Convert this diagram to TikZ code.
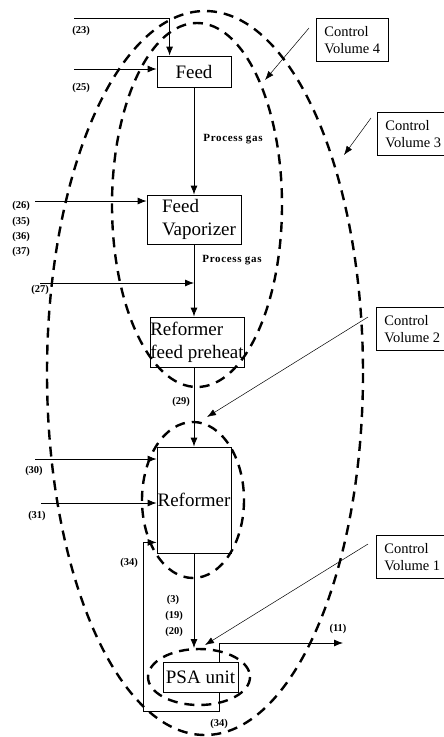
\documentclass[tikz,border=0pt]{standalone}
\usepackage{fontspec}
\setmainfont{Liberation Serif}
\usetikzlibrary{arrows.meta}
\begin{document}
\begin{tikzpicture}[x=1pt,y=-1pt,
  box/.style={draw, line width=0.8pt, inner sep=0pt, font=\fontsize{19}{23}\selectfont},
  cvbox/.style={draw, line width=0.8pt, anchor=north west, align=left, inner xsep=8pt, inner ysep=0pt, minimum height=43pt, font=\fontsize{14.5}{16.5}\selectfont},
  lbl/.style={font=\fontsize{10.5}{12}\selectfont\bfseries, inner sep=0pt},
  gas/.style={font=\fontsize{11}{12}\selectfont\bfseries\addfontfeatures{LetterSpace=6}, inner sep=0pt},
  flow/.style={line width=0.8pt},
  arr/.style={flow, -{Latex[length=9pt,width=7pt]}},
  cv/.style={line width=2.4pt, dash pattern=on 10pt off 7pt},
  ptr/.style={line width=0.5pt, -{Latex[length=9pt,width=6.5pt]}}
]
\path[use as bounding box, fill=white] (0,0) rectangle (444,737);

% control volume boundaries
\draw[cv] (205,373) ellipse [x radius=158, y radius=362];
\draw[cv] (197,205) ellipse [x radius=85, y radius=182];
\draw[cv] (193,500) ellipse [x radius=51, y radius=78];
\draw[cv] (199,677) ellipse [x radius=51, y radius=28];

% unit boxes
\node[box, minimum width=74pt, minimum height=31pt] (feed) at (194,71.5) {Feed};
\node[box, minimum width=94pt, minimum height=49pt, align=left] (vap) at (194,219.5) {\hspace*{10pt}Feed\\\hspace*{10pt}Vaporizer};
\node[box, minimum width=94pt, minimum height=50pt, align=left] (pre) at (197,342) {Reformer\\feed preheat};
\node[box, minimum width=74pt, minimum height=106pt] (ref) at (194,500) {Reformer};
\node[box, minimum width=75pt, minimum height=30pt] (psa) at (200.5,677) {PSA unit};

% control volume labels
\node[cvbox] (cv4) at (316,18) {Control\\Volume 4};
\node[cvbox] (cv3) at (377,112) {Control\\Volume 3};
\node[cvbox] (cv2) at (376,307) {Control\\Volume 2};
\node[cvbox] (cv1) at (376,535) {Control\\Volume 1};

% coordinates
\coordinate (s23) at (74,18);
\coordinate (s25) at (74,69);
\coordinate (s26) at (35,201);
\coordinate (s27) at (40,283);
\coordinate (s30) at (35,459);
\coordinate (s31) at (41,503);
\coordinate (psain) at (194,648);
\coordinate (e11) at (343,643);
\coordinate (b34) at (143,711);
\coordinate (p4) at (265,80);
\coordinate (p3) at (344,155);
\coordinate (p2) at (207,417);
\coordinate (p1) at (205,645);

% streams
\draw[arr] (s23) -| ([xshift=13pt]feed.north west);
\draw[arr] (s25) -- (s25 -| feed.west);
\draw[arr] (feed.south) -- (vap.north);
\draw[arr] (s26) -- (s26 -| vap.west);
\draw[arr] (vap.south) -- (vap.south |- pre.north);
\draw[arr] (s27) -- (s27 -| vap.south);
\draw[arr] (pre.south -| ref.north) -- (ref.north);
\draw[arr] (s30) -- (s30 -| ref.west);
\draw[arr] (s31) -- (s31 -| ref.west);
\draw[arr] (ref.south) -- (psain);
\draw[arr] ([xshift=18.5pt]psa.north) |- (e11);
\draw[arr] ([xshift=18.5pt]psa.south) |- (b34) |- ([yshift=11pt]ref.south west);

% pointers
\draw[ptr] ([shift={(-7,10)}]cv4.north west) -- (p4);
\draw[ptr] ([shift={(-6,6)}]cv3.north west) -- (p3);
\draw[ptr] ([shift={(-8,10)}]cv2.north west) -- (p2);
\draw[ptr] ([shift={(-8,9)}]cv1.north west) -- (p1);

% stream labels
\node[lbl] (l23) at (81,31) {(23)};
\node[lbl] (l25) at (81,88) {(25)};
\node[lbl] (l26) at (21,206) {(26)};
\node[lbl] (l35) at (21,222) {(35)};
\node[lbl] (l36) at (21,237) {(36)};
\node[lbl] (l37) at (21,252) {(37)};
\node[lbl] (l27) at (40,290) {(27)};
\node[lbl] (l29) at (181,402) {(29)};
\node[lbl] (l30) at (34,471) {(30)};
\node[lbl] (l31) at (37,516) {(31)};
\node[lbl] (l34a) at (129,563) {(34)};
\node[lbl] (l3) at (173,600) {(3)};
\node[lbl] (l19) at (174,616) {(19)};
\node[lbl] (l20) at (174,632) {(20)};
\node[lbl] (l11) at (338,629) {(11)};
\node[lbl] (l34b) at (219,724) {(34)};
\node[gas] (g1) at (233,139) {Process gas};
\node[gas] (g2) at (232,260) {Process gas};
\end{tikzpicture}
\end{document}
